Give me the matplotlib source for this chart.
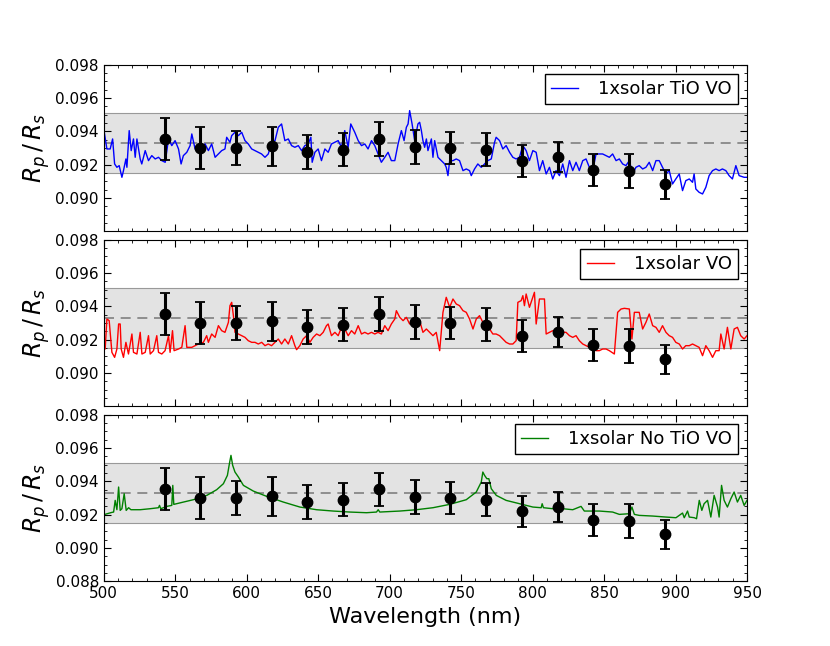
import matplotlib
matplotlib.use("Agg")
import matplotlib.pyplot as plt
import numpy as np
from matplotlib.ticker import MultipleLocator, FormatStrFormatter

# ---- observed transit depths (binned) ----
obs_wl = [542.5, 567.5, 592.5, 617.5, 642.5, 667.5, 692.5, 717.5,
          742.5, 767.5, 792.5, 817.5, 842.5, 867.5, 892.5]
obs_rp = [0.09356, 0.0930, 0.0930, 0.0931, 0.09276, 0.0929, 0.09352, 0.09308,
          0.0930, 0.0929, 0.0922, 0.09248, 0.0917, 0.09164, 0.09082]
obs_err = [0.00126, 0.00125, 0.00103, 0.00117, 0.00102, 0.00098, 0.00101, 0.00102,
           0.00094, 0.00099, 0.00095, 0.00090, 0.00096, 0.00102, 0.00088]

band_lo, band_mid, band_hi = 0.09148, 0.09332, 0.0951

# ---- model: 1x solar with TiO + VO (units of 1e-3) ----
tio_wl = [500.0, 502.2, 504.5, 506.2, 507.6, 509.2, 510.8, 512.7, 513.8, 515.5,
          516.2, 517.8, 519.2, 520.8, 522.0, 523.2, 525.5, 526.6, 529.0, 531.3,
          533.6, 536.0, 538.3, 540.6, 543.0, 545.3, 547.6, 549.9, 552.3, 554.1,
          555.7, 558.1, 560.4, 561.6, 563.9, 566.2, 568.5, 570.9, 573.2, 575.5,
          577.9, 580.2, 582.5, 584.8, 586.0, 588.3, 589.5, 591.8, 594.2, 596.5,
          598.8, 601.1, 603.5, 605.8, 608.1, 610.4, 612.8, 615.1, 617.4, 619.8,
          622.1, 624.4, 626.7, 629.1, 631.4, 633.7, 636.1, 638.4, 640.7, 643.0,
          644.9, 645.8, 647.7, 650.0, 652.3, 654.7, 657.0, 659.3, 661.7, 664.0,
          666.3, 668.6, 671.0, 672.8, 675.6, 678.0, 680.3, 682.6, 684.9, 687.3,
          689.6, 691.9, 694.2, 696.6, 698.9, 701.2, 703.6, 705.9, 708.2, 710.1,
          711.7, 712.9, 714.0, 715.7, 717.5, 719.8, 721.0, 722.2, 723.3, 724.5,
          725.7, 726.8, 729.2, 730.3, 731.5, 733.8, 736.1, 738.5, 739.6, 740.8,
          742.0, 744.3, 746.6, 748.9, 751.3, 753.6, 755.9, 757.1, 759.4, 761.7,
          764.1, 766.4, 768.7, 771.1, 773.4, 774.5, 776.9, 779.2, 781.5, 783.9,
          786.2, 788.5, 790.8, 793.2, 795.5, 797.8, 800.2, 802.5, 804.8, 807.1,
          809.5, 811.8, 814.1, 816.4, 818.8, 821.1, 823.4, 825.8, 828.1, 830.4,
          832.7, 835.1, 837.4, 839.7, 842.1, 844.4, 849.0, 853.7, 856.0, 858.4,
          860.7, 863.0, 865.3, 867.7, 870.0, 872.3, 874.6, 877.0, 879.3, 881.6,
          884.0, 886.3, 888.6, 890.9, 893.3, 895.6, 897.9, 900.2, 902.6, 904.9,
          907.2, 909.6, 911.9, 913.0, 914.2, 916.5, 918.9, 921.2, 923.5, 925.9,
          928.2, 930.5, 932.8, 935.2, 937.5, 939.8, 942.2, 944.5, 948.0, 950.0]
tio_rp = [94.14, 92.94, 92.94, 93.54, 92.04, 91.84, 91.94, 91.24, 91.64, 92.34,
          91.84, 94.04, 92.84, 93.54, 92.44, 93.54, 92.34, 92.04, 92.84, 92.24,
          92.54, 92.34, 92.44, 92.24, 92.14, 93.54, 93.14, 93.44, 92.94, 92.04,
          92.54, 92.74, 93.14, 93.84, 92.94, 93.14, 93.04, 93.24, 92.84, 93.24,
          92.44, 92.64, 92.84, 92.94, 93.64, 93.34, 93.74, 93.94, 93.74, 93.94,
          93.44, 93.24, 92.94, 92.84, 92.74, 92.64, 92.44, 92.64, 93.34, 93.44,
          94.24, 94.44, 93.44, 93.54, 93.14, 93.04, 93.14, 92.84, 93.14, 93.24,
          93.64, 92.14, 92.74, 92.94, 92.24, 92.94, 92.74, 93.24, 93.34, 93.44,
          93.04, 94.04, 93.04, 94.44, 93.94, 93.44, 93.14, 93.24, 92.94, 93.44,
          93.14, 92.64, 92.14, 92.44, 92.74, 92.24, 92.24, 93.24, 94.04, 93.44,
          94.24, 94.44, 95.24, 94.44, 93.44, 94.44, 94.54, 94.04, 93.44, 93.04,
          93.54, 92.84, 93.54, 92.44, 93.44, 92.44, 92.24, 92.04, 91.84, 91.34,
          92.24, 92.24, 92.34, 92.24, 91.64, 91.74, 91.64, 91.34, 91.74, 92.04,
          91.84, 92.04, 92.24, 92.34, 93.34, 93.64, 93.44, 92.94, 93.14, 92.74,
          92.44, 92.34, 92.44, 93.14, 92.84, 92.24, 92.84, 92.74, 91.64, 92.24,
          91.44, 91.84, 91.14, 91.64, 91.34, 92.04, 91.24, 92.24, 91.64, 92.14,
          91.64, 92.24, 92.34, 91.84, 91.64, 92.64, 92.64, 92.44, 92.64, 92.24,
          92.34, 92.04, 91.94, 92.24, 91.44, 91.84, 91.94, 91.74, 91.84, 92.14,
          91.64, 92.24, 92.24, 91.84, 91.44, 91.64, 90.84, 91.14, 91.44, 90.44,
          91.04, 91.14, 90.94, 91.44, 90.54, 90.34, 90.24, 90.64, 91.34, 91.64,
          91.74, 91.64, 91.74, 91.64, 91.34, 91.14, 91.94, 91.34, 91.24, 91.24]

# ---- model: 1x solar with VO only ----
vo_wl = [500.0, 501.0, 502.2, 503.8, 504.5, 505.7, 507.6, 509.2, 510.4, 511.5,
         512.2, 513.8, 515.5, 517.3, 519.7, 520.8, 523.2, 525.5, 526.7, 529.0,
         531.3, 532.5, 534.8, 537.1, 538.3, 540.6, 542.9, 545.3, 546.4, 548.1,
         549.2, 552.3, 554.6, 556.9, 558.1, 561.6, 566.2, 569.7, 572.0, 573.2,
         575.5, 577.9, 580.2, 582.5, 584.8, 587.2, 588.3, 589.5, 590.7, 591.8,
         594.2, 596.5, 598.8, 601.1, 603.5, 605.8, 608.1, 610.5, 612.8, 615.1,
         617.4, 619.8, 622.1, 624.4, 626.7, 629.1, 631.4, 633.7, 634.9, 637.2,
         639.5, 641.9, 644.2, 646.5, 648.9, 651.2, 653.5, 655.8, 657.0, 659.3,
         661.7, 664.0, 666.3, 668.6, 671.0, 673.3, 675.6, 678.0, 680.3, 682.6,
         684.9, 687.3, 689.6, 691.9, 694.2, 696.6, 698.9, 701.2, 703.6, 704.7,
         707.1, 709.4, 711.7, 714.0, 716.4, 718.7, 721.0, 723.3, 725.7, 730.3,
         732.6, 735.0, 737.3, 739.6, 742.0, 744.3, 746.6, 748.9, 751.3, 753.6,
         755.9, 758.3, 760.6, 762.9, 765.2, 767.6, 769.9, 772.2, 774.5, 776.9,
         779.2, 781.5, 783.9, 786.2, 788.5, 789.7, 792.0, 793.2, 794.3, 795.5,
         797.8, 801.3, 802.5, 804.8, 808.3, 809.5, 811.8, 814.1, 816.4, 818.8,
         821.1, 823.4, 825.8, 828.1, 830.4, 832.7, 835.1, 837.4, 839.7, 842.1,
         844.4, 846.7, 849.0, 851.4, 853.7, 857.2, 859.5, 861.9, 864.2, 867.7,
         869.5, 871.2, 874.6, 877.0, 879.3, 881.6, 884.0, 886.3, 888.6, 890.9,
         893.3, 895.6, 897.9, 900.2, 902.6, 904.9, 907.2, 909.6, 911.9, 914.2,
         916.5, 918.9, 921.2, 923.5, 925.9, 928.2, 930.5, 931.7, 934.0, 936.3,
         938.7, 941.0, 943.3, 945.6, 948.0, 950.0]
vo_rp = [92.44, 91.44, 93.24, 93.14, 92.44, 91.24, 90.94, 91.44, 92.94, 92.94,
         91.44, 90.94, 91.84, 91.14, 92.34, 91.24, 91.14, 92.44, 91.14, 91.24,
         92.24, 91.14, 91.34, 92.24, 91.24, 91.14, 91.34, 92.24, 91.24, 92.54,
         91.34, 91.44, 91.54, 92.84, 91.54, 91.54, 91.74, 91.84, 92.24, 91.84,
         92.34, 92.14, 92.84, 92.54, 92.44, 93.04, 94.04, 94.24, 93.44, 92.44,
         92.34, 92.24, 92.14, 91.94, 91.84, 91.84, 91.74, 91.84, 91.64, 91.74,
         91.64, 91.84, 92.04, 91.74, 92.04, 91.74, 92.24, 91.64, 91.40, 91.64,
         92.04, 92.24, 91.84, 92.14, 92.34, 92.24, 92.44, 92.84, 92.94, 92.24,
         92.44, 92.24, 92.74, 92.64, 92.24, 92.54, 92.34, 92.84, 92.34, 92.44,
         92.34, 92.44, 92.34, 92.44, 92.34, 92.84, 92.54, 92.94, 93.24, 93.74,
         93.34, 93.14, 93.34, 92.94, 93.14, 92.94, 93.14, 92.44, 92.64, 92.24,
         92.44, 91.34, 93.64, 94.54, 93.94, 94.44, 94.14, 94.04, 93.74, 93.64,
         93.24, 92.64, 93.24, 93.44, 93.04, 92.94, 92.64, 92.34, 92.34, 92.24,
         92.04, 91.84, 91.74, 91.74, 91.94, 94.24, 94.34, 94.64, 94.04, 94.74,
         93.94, 94.84, 92.94, 94.44, 94.44, 92.34, 92.44, 92.54, 92.44, 92.24,
         92.44, 92.44, 92.24, 92.14, 92.24, 91.94, 91.74, 91.64, 91.54, 91.44,
         91.34, 91.34, 91.44, 91.44, 91.34, 91.14, 93.64, 93.84, 93.88, 93.84,
         92.04, 93.64, 93.64, 92.64, 93.04, 93.54, 92.84, 92.74, 92.44, 92.84,
         92.44, 92.24, 92.14, 91.84, 91.74, 91.44, 91.64, 91.64, 91.74, 91.64,
         91.54, 91.04, 91.64, 91.34, 90.94, 91.34, 91.34, 92.34, 91.44, 92.74,
         91.44, 92.64, 92.74, 92.24, 92.04, 92.24]

# ---- model: 1x solar without TiO / VO ----
clr_wl = [500.0, 505.7, 506.9, 508.0, 509.2, 510.4, 511.5, 512.7, 514.3, 515.7,
          517.4, 519.0, 525.5, 532.5, 538.3, 539.0, 539.9, 544.1, 547.6, 548.3,
          549.0, 555.8, 562.7, 572.1, 579.0, 583.7, 586.5, 587.9, 589.0, 590.2,
          591.8, 594.2, 597.7, 604.6, 614.0, 625.6, 637.2, 648.9, 660.5, 672.2,
          683.8, 690.8, 692.0, 693.1, 707.1, 718.7, 730.3, 742.0, 753.6, 760.6,
          764.1, 765.2, 766.4, 768.0, 769.4, 771.1, 774.6, 781.5, 790.9, 800.2,
          806.0, 806.7, 807.6, 814.1, 818.8, 821.1, 828.1, 833.9, 836.2, 846.7,
          856.0, 860.7, 867.7, 869.5, 871.2, 874.6, 884.0, 893.3, 900.3, 904.9,
          906.1, 908.4, 909.6, 913.1, 914.7, 916.6, 918.4, 920.0, 922.4, 924.7,
          927.0, 929.4, 930.5, 932.2, 934.0, 936.3, 938.7, 941.0, 943.3, 945.6,
          948.0, 950.0]
clr_rp = [92.00, 92.14, 92.16, 92.86, 92.30, 93.66, 92.26, 92.36, 93.26, 92.26,
          92.42, 92.30, 92.30, 92.36, 92.42, 92.56, 92.36, 92.50, 92.56, 93.76,
          92.62, 92.76, 92.90, 93.16, 93.50, 93.86, 94.36, 95.06, 95.56, 94.96,
          94.56, 94.26, 93.76, 93.42, 93.10, 92.76, 92.46, 92.30, 92.22, 92.16,
          92.12, 92.16, 92.30, 92.16, 92.22, 92.30, 92.42, 92.62, 92.90, 93.36,
          93.96, 94.56, 94.36, 94.16, 94.16, 93.56, 93.16, 92.86, 92.66, 92.46,
          92.42, 92.66, 92.42, 92.36, 92.86, 92.36, 92.30, 92.50, 92.22, 92.22,
          92.16, 92.02, 92.06, 92.46, 92.02, 91.96, 91.92, 91.86, 91.82, 92.10,
          91.82, 92.22, 91.86, 91.82, 91.76, 92.86, 92.26, 92.66, 92.86, 91.86,
          93.16, 92.46, 91.86, 93.76, 92.86, 92.46, 92.96, 93.36, 92.76, 93.16,
          92.56, 92.86]

models = [
    (tio_wl, tio_rp, "blue", "1xsolar TiO VO"),
    (vo_wl, vo_rp, "red", "1xsolar VO"),
    (clr_wl, clr_rp, "green", "1xsolar No TiO VO"),
]

fig, axes = plt.subplots(3, 1, figsize=(8.3, 6.46), dpi=100, sharex=True)
fig.subplots_adjust(left=0.125, right=0.9, top=0.9, bottom=0.1, hspace=0.05)

for i, (ax, (wl, rp, col, lab)) in enumerate(zip(axes, models)):
    ax.axhspan(band_lo, band_hi, facecolor="0.89", edgecolor="0.6", lw=0.8, zorder=0)
    ax.axhline(band_mid, color="0.5", ls="--", dashes=(6, 4), lw=1.2, zorder=1)
    ax.plot(wl, np.array(rp) * 1e-3, "-", color=col, lw=1.0, label=lab, zorder=2)
    ax.errorbar(obs_wl, obs_rp, yerr=obs_err, fmt="o", color="black", ms=7.5,
                elinewidth=2.2, capsize=3.5, capthick=1.3, zorder=3)

    ax.set_xlim(500, 950)
    ax.set_ylim(0.088, 0.098)
    ax.xaxis.set_major_locator(MultipleLocator(50))
    ax.xaxis.set_minor_locator(MultipleLocator(10))
    ax.yaxis.set_major_locator(MultipleLocator(0.002))
    ax.yaxis.set_minor_locator(MultipleLocator(0.0005))
    ax.yaxis.set_major_formatter(FormatStrFormatter("%.3f"))
    ax.tick_params(which="both", direction="in", top=True, right=True,
                   labelsize=11)
    ax.tick_params(which="major", length=5)
    ax.tick_params(which="minor", length=2.5)
    ax.set_ylabel(r"$R_p\,/\,R_s$", fontsize=17, labelpad=2)
    ax.legend(loc="upper right", fontsize=13, fancybox=False, framealpha=1,
              edgecolor="black", handlelength=1.5, handletextpad=1.1,
              borderpad=0.35)

# lower tick label hidden on the upper two panels
for ax in axes[:2]:
    ax.set_yticks([0.090, 0.092, 0.094, 0.096, 0.098])

axes[-1].set_xlabel("Wavelength (nm)", fontsize=16)
fig.align_ylabels(axes)

plt.savefig("out.png", dpi=100)
plt.close()
